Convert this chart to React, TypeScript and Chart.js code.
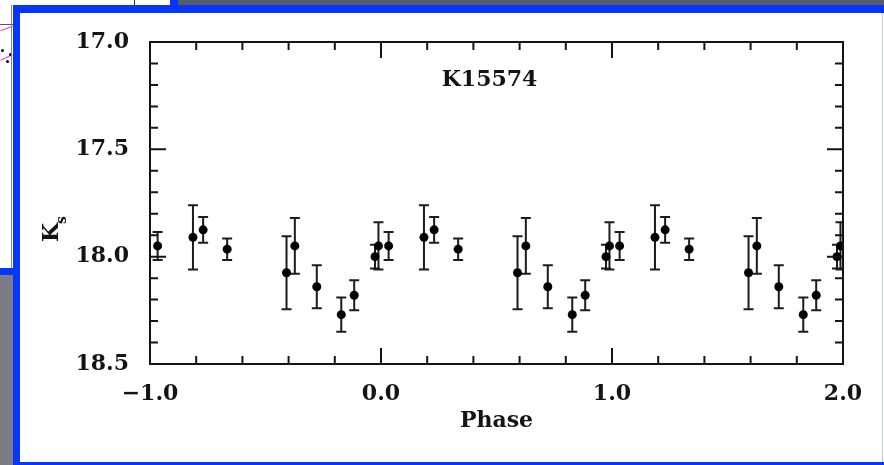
import React, { useEffect, useRef } from 'react';
import { Chart, registerables } from 'chart.js';

Chart.register(...registerables);

// ---- data (phase-folded light curve, one cycle) ----
const PHASES = [0.033, 0.186, 0.23, 0.334, 0.591, 0.627, 0.722, 0.828, 0.884, 0.974, 0.989];
const MAGS = [17.95, 17.91, 17.875, 17.965, 18.075, 17.95, 18.14, 18.27, 18.18, 18.0, 17.95];
const ERRS = [0.065, 0.15, 0.06, 0.05, 0.17, 0.13, 0.1, 0.08, 0.07, 0.055, 0.11];
const CYCLES = [-1, 0, 1];

const X_TICKS = [-1, 0, 1, 2];
const X_LABELS = ['\u22121.0', '0.0', '1.0', '2.0'];
const Y_TICKS = [17.0, 17.5, 18.0, 18.5];
const Y_LABELS = ['17.0', '17.5', '18.0', '18.5'];
const TITLE = 'K15574';
const X_TITLE = 'Phase';
const Y_TITLE = 'K';
const Y_TITLE_SUB = 's';

const X_MIN = -1;
const X_MAX = 2;
const Y_MIN = 17;
const Y_MAX = 18.5;
const X_MINOR = 0.2;
const Y_MINOR = 0.1;

const FONT = "'DejaVu Serif', serif";
const INK = '#141414';

const errorBars = {
  id: 'errorBars',
  beforeDatasetsDraw(chart: any) {
    const { ctx, chartArea, scales } = chart;
    const x = scales.x;
    const y = scales.y;
    ctx.save();
    ctx.beginPath();
    ctx.rect(chartArea.left - 1, chartArea.top, chartArea.right - chartArea.left + 2, chartArea.bottom - chartArea.top);
    ctx.clip();
    ctx.strokeStyle = '#1c1c1c';
    ctx.lineWidth = 2;
    chart.data.datasets[0].data.forEach((d: any) => {
      const px = x.getPixelForValue(d.x);
      const t = y.getPixelForValue(d.y - d.err);
      const b = y.getPixelForValue(d.y + d.err);
      ctx.beginPath();
      ctx.moveTo(px, t);
      ctx.lineTo(px, b);
      ctx.moveTo(px - 5, t);
      ctx.lineTo(px + 5, t);
      ctx.moveTo(px - 5, b);
      ctx.lineTo(px + 5, b);
      ctx.stroke();
    });
    ctx.restore();
  },
};

const frame = {
  id: 'frame',
  afterDraw(chart: any) {
    const { ctx, chartArea, scales } = chart;
    const x = scales.x;
    const y = scales.y;
    const { left, right, top, bottom } = chartArea;
    ctx.save();
    ctx.strokeStyle = INK;
    ctx.lineWidth = 2;
    ctx.beginPath();
    ctx.rect(left, top, right - left, bottom - top);
    ctx.stroke();
    ctx.beginPath();
    const ny = Math.round((Y_MAX - Y_MIN) / Y_MINOR);
    for (let k = 0; k <= ny; k++) {
      const v = Y_MIN + k * Y_MINOR;
      const py = y.getPixelForValue(v);
      const len = k % 5 === 0 ? 16 : 8;
      ctx.moveTo(left, py);
      ctx.lineTo(left + len, py);
      ctx.moveTo(right, py);
      ctx.lineTo(right - len, py);
    }
    const nx = Math.round((X_MAX - X_MIN) / X_MINOR);
    for (let k = 0; k <= nx; k++) {
      const v = X_MIN + k * X_MINOR;
      const px = x.getPixelForValue(v);
      const len = k % 5 === 0 ? 16 : 8;
      ctx.moveTo(px, bottom);
      ctx.lineTo(px, bottom - len);
      ctx.moveTo(px, top);
      ctx.lineTo(px, top + len);
    }
    ctx.stroke();

    // title inside the plot
    ctx.fillStyle = INK;
    ctx.font = `bold 22px ${FONT}`;
    ctx.textAlign = 'center';
    ctx.textBaseline = 'middle';
    ctx.fillText(TITLE, left + (right - left) * 0.49, top + 38);

    // rotated y title K_s
    ctx.save();
    ctx.translate(38, 229);
    ctx.rotate(-Math.PI / 2);
    ctx.textAlign = 'left';
    ctx.textBaseline = 'alphabetic';
    ctx.font = `bold 22px ${FONT}`;
    ctx.fillText(Y_TITLE, 0, 0);
    const w = ctx.measureText(Y_TITLE).width;
    ctx.font = `bold 14px ${FONT}`;
    ctx.fillText(Y_TITLE_SUB, w - 1, 8);
    ctx.restore();
    ctx.restore();
  },
};

function PhaseChart() {
  const ref = useRef<HTMLCanvasElement | null>(null);
  useEffect(() => {
    if (!ref.current) return;
    const points = CYCLES.flatMap((c) =>
      PHASES.map((p, i) => ({ x: p + c, y: MAGS[i], err: ERRS[i] }))
    );
    const tickFont = { family: FONT, weight: 'bold' as const, size: 22 };
    const chart = new Chart(ref.current, {
      type: 'scatter',
      data: {
        datasets: [
          {
            data: points,
            pointRadius: 4.5,
            pointHoverRadius: 4.5,
            pointBackgroundColor: '#000',
            pointBorderWidth: 0,
            showLine: false,
          },
        ],
      },
      options: {
        animation: false,
        responsive: false,
        events: [],
        layout: { padding: { left: 0, right: 39, top: 29, bottom: 0 } },
        plugins: { legend: { display: false }, tooltip: { enabled: false } },
        scales: {
          x: {
            type: 'linear',
            min: X_MIN,
            max: X_MAX,
            afterBuildTicks: (s: any) => {
              s.ticks = X_TICKS.map((v) => ({ value: v }));
            },
            afterFit: (s: any) => {
              s.height = 98;
            },
            grid: { display: false },
            border: { display: false },
            ticks: {
              autoSkip: false,
              maxRotation: 0,
              padding: 9,
              color: INK,
              font: tickFont,
              callback: (v: any) => X_LABELS[X_TICKS.indexOf(Number(v))],
            },
            title: {
              display: true,
              text: X_TITLE,
              color: INK,
              font: tickFont,
              padding: { top: 4, bottom: 28 },
            },
          },
          y: {
            type: 'linear',
            min: Y_MIN,
            max: Y_MAX,
            reverse: true,
            afterBuildTicks: (s: any) => {
              s.ticks = Y_TICKS.map((v) => ({ value: v }));
            },
            afterFit: (s: any) => {
              s.width = 130;
            },
            grid: { display: false },
            border: { display: false },
            ticks: {
              padding: 13,
              color: INK,
              font: tickFont,
              callback: (v: any) => Y_LABELS[Y_TICKS.indexOf(Number(v))],
            },
          },
        },
      },
      plugins: [errorBars, frame],
    });
    return () => chart.destroy();
  }, []);
  return <canvas ref={ref} width={862} height={449} style={{ display: 'block' }} />;
}

export default function App() {
  const abs = (s: React.CSSProperties): React.CSSProperties => ({ position: 'absolute', ...s });
  return (
    <div style={{ position: 'fixed', left: 0, top: 0, width: 884, height: 465, overflow: 'hidden', background: '#fff' }}>
      {/* surrounding screenshot context */}
      <div style={abs({ left: 0, top: 0, width: 178, height: 5, background: '#fff' })} />
      <div style={abs({ left: 134, top: 0, width: 1, height: 6, background: '#333' })} />
      <div style={abs({ left: 170, top: 0, width: 8, height: 6, background: '#0636fb' })} />
      <div style={abs({ left: 178, top: 0, width: 706, height: 5, background: '#575c68' })} />
      <div style={abs({ left: 0, top: 24, width: 13, height: 1, background: '#555' })} />
      <div style={abs({ left: 0, top: 28, width: 13, height: 1, background: '#e040e0', transform: 'rotate(-20deg)' })} />
      <div style={abs({ left: 0, top: 57, width: 13, height: 1, background: '#e040e0', transform: 'rotate(-25deg)' })} />
      <div style={abs({ left: 1, top: 49, width: 3, height: 3, borderRadius: 2, background: '#000' })} />
      <div style={abs({ left: 6, top: 60, width: 3, height: 3, borderRadius: 2, background: '#000' })} />
      <div style={abs({ left: 9, top: 53, width: 3, height: 3, borderRadius: 2, background: '#000' })} />
      <div style={abs({ left: 11, top: 5, width: 1, height: 263, background: '#888' })} />
      <div style={abs({ left: 0, top: 268, width: 13, height: 7, background: '#0636fb' })} />
      <div style={abs({ left: 0, top: 275, width: 13, height: 190, background: '#7a7d85' })} />
      {/* blue frame */}
      <div style={abs({ left: 13, top: 5, width: 7, height: 460, background: '#0636fb' })} />
      <div style={abs({ left: 13, top: 5, width: 871, height: 8, background: '#0636fb' })} />
      <div style={abs({ left: 13, top: 462, width: 871, height: 3, background: '#0636fb' })} />
      <div style={abs({ left: 882, top: 13, width: 1, height: 449, background: '#c8cbd8' })} />
      <div style={abs({ left: 20, top: 13, width: 862, height: 449 })}>
        <PhaseChart />
      </div>
    </div>
  );
}
